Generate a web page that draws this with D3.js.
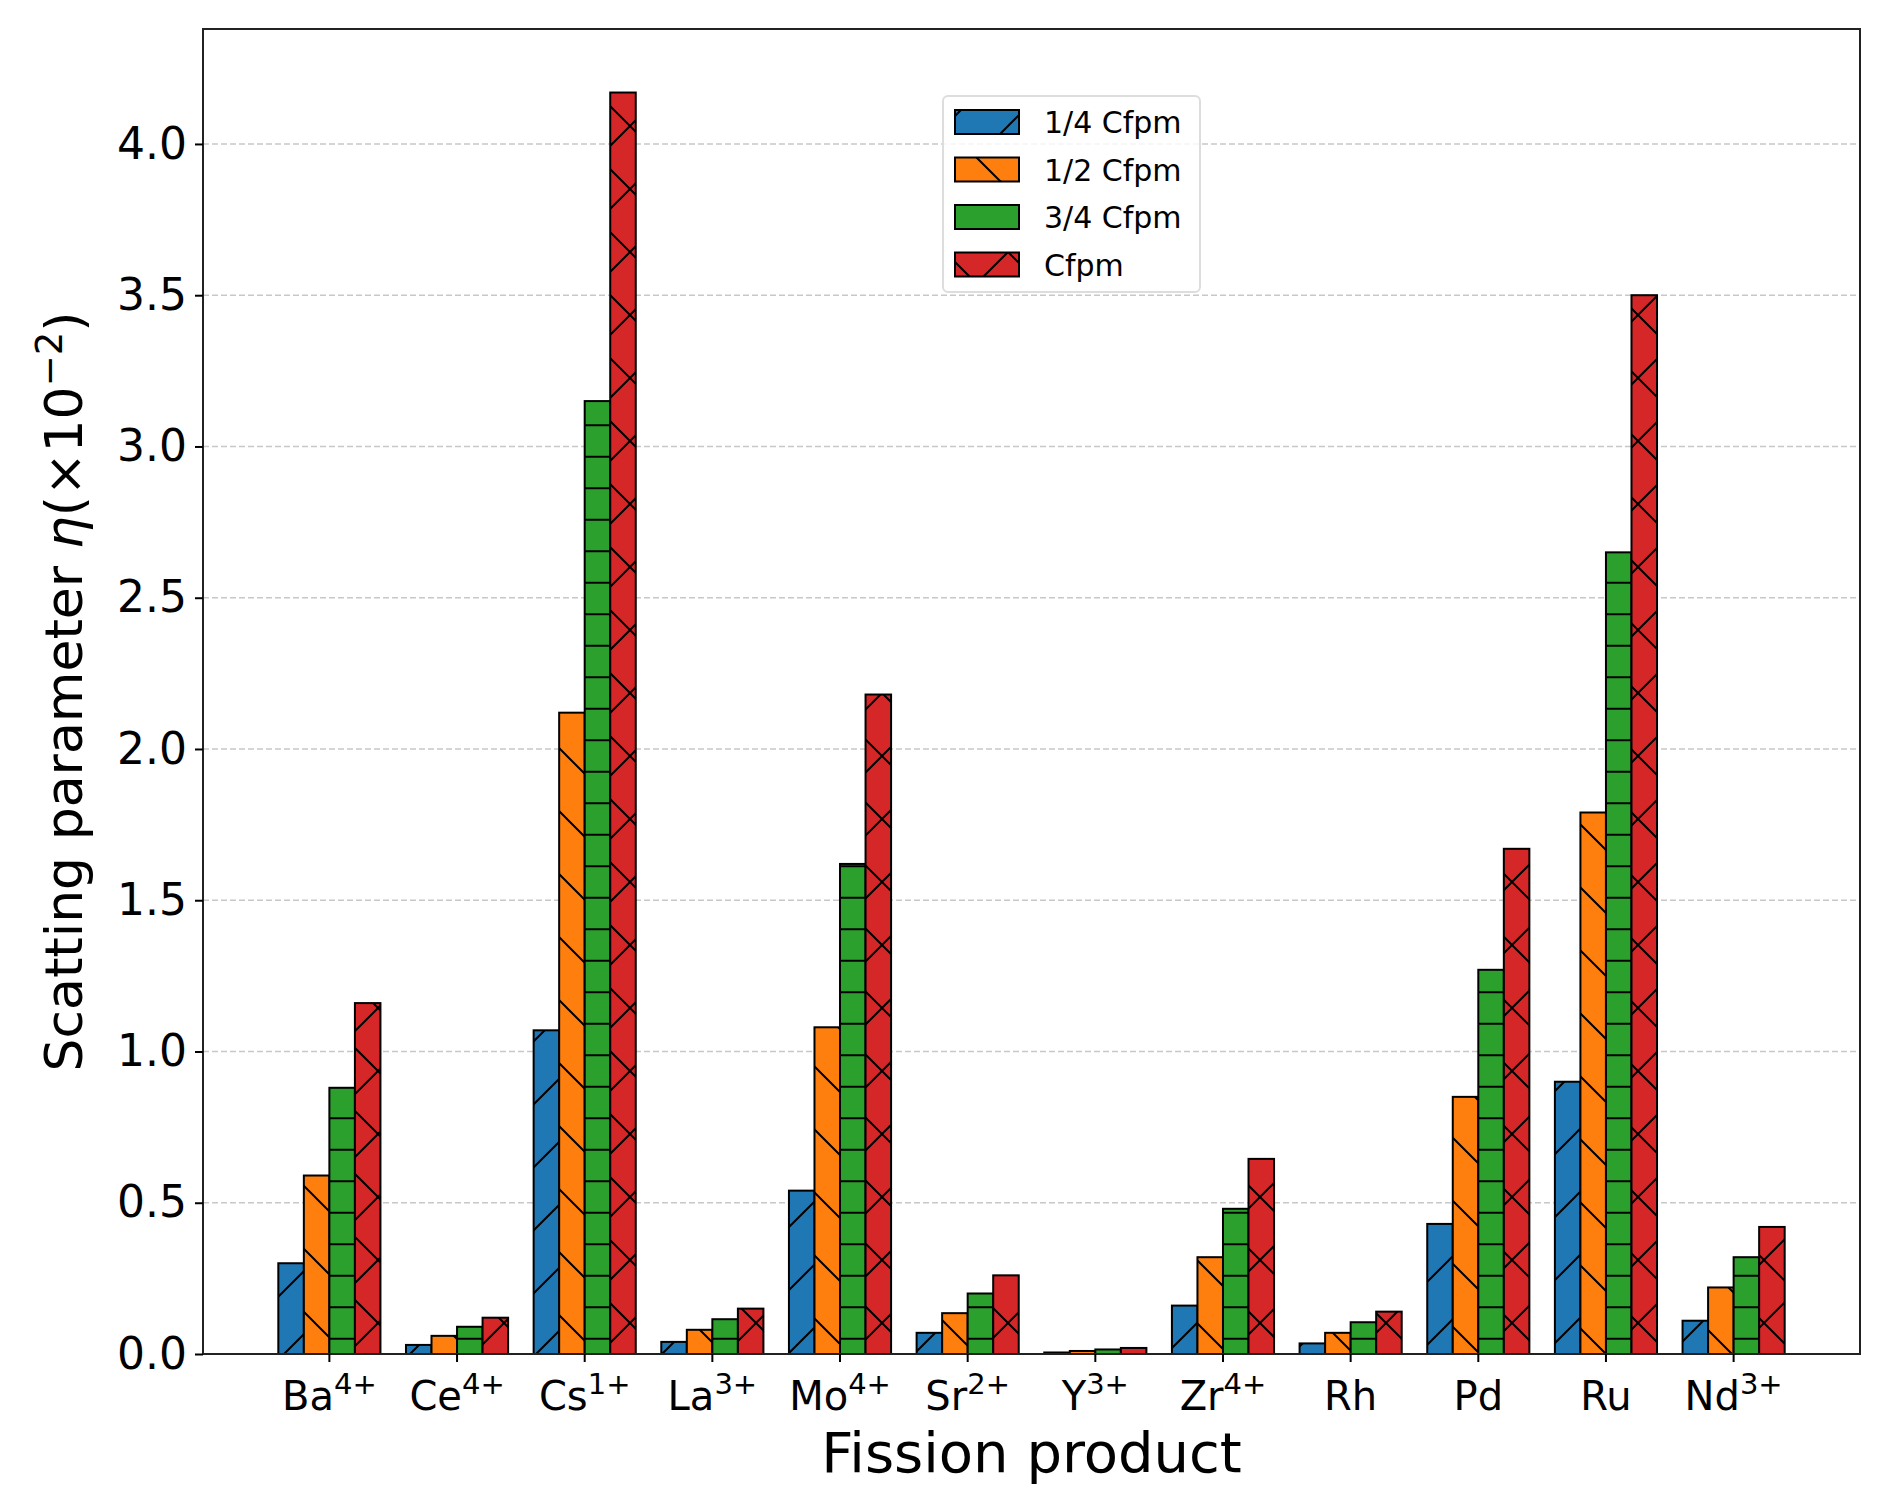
<!DOCTYPE html>
<html><head><meta charset="utf-8">
<script src="https://cdn.jsdelivr.net/npm/d3@7"></script>
<style>body{margin:0;background:#fff}</style>
</head><body>
<script>
const categories = [["Ba","4+"],["Ce","4+"],["Cs","1+"],["La","3+"],["Mo","4+"],["Sr","2+"],["Y","3+"],["Zr","4+"],["Rh",""],["Pd",""],["Ru",""],["Nd","3+"]];
const seriesNames = ["1/4 Cfpm","1/2 Cfpm","3/4 Cfpm","Cfpm"];
const s1 = [0.30,0.03,1.07,0.04,0.54,0.07,0.005,0.16,0.035,0.43,0.90,0.11];
const s2 = [0.59,0.06,2.12,0.08,1.08,0.135,0.01,0.32,0.07,0.85,1.79,0.22];
const s3 = [0.88,0.09,3.15,0.115,1.62,0.20,0.015,0.48,0.105,1.27,2.65,0.32];
const s4 = [1.16,0.12,4.17,0.15,2.18,0.26,0.02,0.645,0.14,1.67,3.50,0.42];
const yTicks = [0,0.5,1.0,1.5,2.0,2.5,3.0,3.5,4.0];
const series = [s1,s2,s3,s4];
const colors = ["#1f77b4","#ff7f0e","#2ca02c","#d62728"];
const hatches = ["diag","back","horiz","cross"];

const W=1882,H=1498, L=203,R=1860,T=29,B=1354;
const svg=d3.select("body").append("svg").attr("width",W).attr("height",H).style("font-family","DejaVu Sans");
const defs=svg.append("defs");
const P=63;
function pat(id,color,size,draw){
  const p=defs.append("pattern").attr("id",id).attr("patternUnits","userSpaceOnUse").attr("width",size).attr("height",size);
  p.append("rect").attr("width",size).attr("height",size).attr("fill",color);
  draw(p,size);
}
colors.forEach((c,i)=>{
  const ln=(p,d)=>p.append("path").attr("d",d).attr("stroke","#000").attr("stroke-width",2).attr("fill","none");
  if(i===0) pat("h0",c,P,(p,s)=>ln(p,`M0,${s}L${s},0M-5,5L5,-5M${s-5},${s+5}L${s+5},${s-5}`));
  if(i===1) pat("h1",c,P,(p,s)=>ln(p,`M0,0L${s},${s}M-5,${s-5}L5,${s+5}M${s-5},-5L${s+5},5`));
  if(i===2) pat("h2",c,P/2,(p,s)=>ln(p,`M0,${s/2}L${s},${s/2}`));
  if(i===3) pat("h3",c,P,(p,s)=>ln(p,`M0,${s}L${s},0M0,0L${s},${s}`));
});

const x=d3.scaleLinear().domain([-0.99,11.99]).range([L,R]);
const y=d3.scaleLinear().domain([0,4.38]).range([B,T]);
const bw=0.2;

// grid
svg.append("g").selectAll("line").data(yTicks.filter(d=>d>0)).join("line")
 .attr("x1",L).attr("x2",R).attr("y1",d=>y(d)).attr("y2",d=>y(d))
 .attr("stroke","#c8c8c8").attr("stroke-width",1.5).attr("stroke-dasharray","6,3");

series.forEach((s,k)=>{
  svg.append("g").selectAll("rect").data(s).join("rect")
   .attr("x",(d,i)=>x(i+(k-1.5)*bw-bw/2)).attr("width",x(bw)-x(0))
   .attr("y",d=>y(d)).attr("height",d=>y(0)-y(d))
   .attr("fill",`url(#h${k})`).attr("stroke","#000").attr("stroke-width",2);
});

// axes frame
svg.append("rect").attr("x",L).attr("y",T).attr("width",R-L).attr("height",B-T).attr("fill","none").attr("stroke","#222").attr("stroke-width",2);

// y axis
const ya=svg.append("g").attr("transform",`translate(${L},0)`).call(d3.axisLeft(y).tickValues(yTicks).tickFormat(d3.format(".1f")).tickSize(8).tickPadding(8));
ya.select(".domain").remove();
ya.selectAll("line").attr("stroke","#000").attr("stroke-width",2);
ya.selectAll("text").attr("font-size",44).attr("font-family","DejaVu Sans").attr("fill","#000");

// x axis
const xa=svg.append("g");
categories.forEach((c,i)=>{
  xa.append("line").attr("x1",x(i)).attr("x2",x(i)).attr("y1",B).attr("y2",B+8).attr("stroke","#000").attr("stroke-width",2);
  const t=xa.append("text").attr("x",x(i)).attr("y",B+56).attr("text-anchor","middle").attr("font-size",40).attr("fill","#000");
  t.append("tspan").text(c[0]);
  if(c[1]) t.append("tspan").attr("dy",-16).attr("font-size",29).text(c[1]);
});

svg.append("text").attr("x",(L+R)/2).attr("y",1472).attr("text-anchor","middle").attr("font-size",56).text("Fission product");
const yl=svg.append("text").attr("transform",`translate(82,${(T+B)/2}) rotate(-90)`).attr("text-anchor","middle").attr("font-size",52);
yl.append("tspan").text("Scatting parameter ");
yl.append("tspan").attr("font-style","italic").text("η");
yl.append("tspan").text("(×10");
yl.append("tspan").attr("dy",-20).attr("font-size",37).text("−2");
yl.append("tspan").attr("dy",20).text(")");

// legend
const lg=svg.append("g");
lg.append("rect").attr("x",943).attr("y",96).attr("width",257).attr("height",196).attr("rx",5).attr("fill","#fff").attr("fill-opacity",0.8).attr("stroke","#ddd").attr("stroke-width",2);
seriesNames.forEach((n,k)=>{
  const cy=122+k*47.5;
  lg.append("rect").attr("x",955).attr("y",cy-12).attr("width",64).attr("height",24).attr("fill",`url(#h${k})`).attr("stroke","#000").attr("stroke-width",2);
  lg.append("text").attr("x",1044).attr("y",cy+11).attr("font-size",30).text(n);
});
</script>
</body></html>
